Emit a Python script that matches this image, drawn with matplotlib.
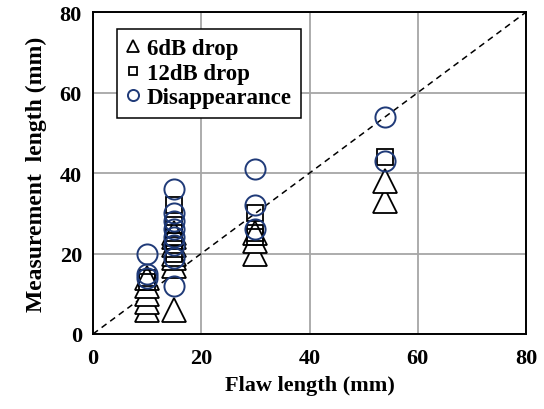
import numpy as np
import matplotlib.pyplot as plt

# 6dB drop
x_6db = [10, 10, 10, 10, 10, 15, 15, 15, 15, 15, 15, 15, 30, 30, 30, 54, 54]
y_6db = [6, 8, 10, 12, 14, 6, 17, 19, 20, 22, 24, 25, 20, 23, 25, 33, 38]

# 12dB drop
x_12db = [10, 10, 15, 15, 15, 15, 15, 15, 30, 30, 30, 54]
y_12db = [13, 14, 20, 22, 23, 25, 27, 32, 24, 25, 30, 44]

# Disappearance
x_dis = [10, 10, 10, 15, 15, 15, 15, 15, 15, 15, 15, 30, 30, 30, 54, 54]
y_dis = [14, 15, 20, 12, 19, 22, 24, 26, 28, 30, 36, 26, 32, 41, 43, 54]

ticks = [0, 20, 40, 60, 80]
navy = '#1F3A78'

plt.rcParams['font.family'] = ['Liberation Serif', 'DejaVu Serif']
plt.rcParams['font.weight'] = 'bold'

fig = plt.figure(figsize=(5.44, 4.10), dpi=100)
ax = fig.add_axes([0.171, 0.183, 0.796, 0.785])

ax.plot([0, 80], [0, 80], 'k--', lw=1.1, dashes=(4, 3), zorder=1)

ax.plot(x_6db, y_6db, ls='none', marker='^', ms=17, mfc='white', mec='black',
        mew=1.3, label='6dB drop', zorder=3)
ax.plot(x_12db, y_12db, ls='none', marker='s', ms=11, mfc='none', mec='black',
        mew=1.3, label='12dB drop', zorder=3)
ax.plot(x_dis, y_dis, ls='none', marker='o', ms=14.5, mfc='none', mec=navy,
        mew=1.4, label='Disappearance', zorder=4)

ax.set_xlim(0, 80)
ax.set_ylim(0, 80)
ax.set_xticks(ticks)
ax.set_yticks(ticks)
ax.tick_params(axis='x', length=0, labelsize=16, pad=10)
ax.tick_params(axis='y', length=0, labelsize=16, pad=8)
for lab in ax.get_xticklabels() + ax.get_yticklabels():
    lab.set_fontweight('bold')
ax.grid(True, color='#A6A6A6', lw=1.3)
ax.set_axisbelow(True)
for s in ax.spines.values():
    s.set_linewidth(1.4)

ax.set_xlabel('Flaw length (mm)', fontsize=16, fontweight='bold', labelpad=5)
ax.set_ylabel('Measurement  length (mm)', fontsize=17, fontweight='bold', labelpad=9)

leg = ax.legend(loc='upper left', bbox_to_anchor=(0.055, 0.947), borderaxespad=0,
                fancybox=False, framealpha=1, edgecolor='black', markerscale=0.55,
                handlelength=0.6, handletextpad=0.3, labelspacing=0.15,
                borderpad=0.4, prop={'size': 16.5, 'weight': 'bold'})
leg.get_frame().set_linewidth(1.1)

fig.savefig('out.png', dpi=100)
